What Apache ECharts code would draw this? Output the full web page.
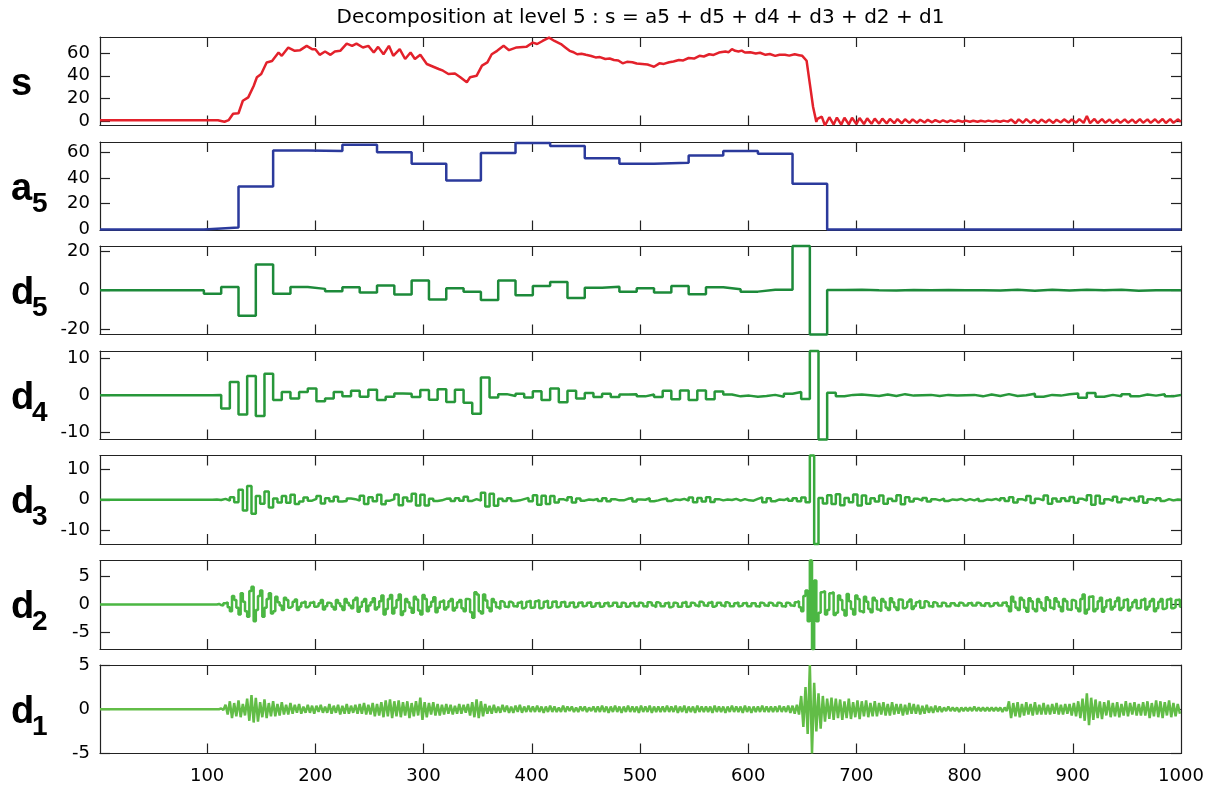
<!DOCTYPE html>
<html>
<head>
<meta charset="utf-8">
<title>Decomposition at level 5</title>
<script src="https://cdn.jsdelivr.net/npm/echarts@6.0.0/dist/echarts.min.js"></script>
<style>
html, body { margin: 0; padding: 0; background: #fff; }
#chart { width: 1216px; height: 791px; }
</style>
</head>
<body>
<div id="chart"></div>
<script>
// signal s as [sample, value]
const sPts = [
  [1, 0.8], [110, 0.8], [116, -0.5], [120, 1], [124, 6.5], [129, 7], [133, 18], [138, 21], [143, 31],
  [146, 38.7], [150, 41.6], [155, 51.8], [160, 53], [166, 60.5], [169, 57.6], [175, 64.9], [181, 62],
  [186, 62.6], [192, 66.4], [197, 63.5], [200, 63.5], [204, 58.5], [209, 61.4], [214, 58.5], [218, 61.4],
  [223, 62], [229, 68.4], [234, 66.4], [238, 68.4], [244, 64.9], [249, 66.4], [254, 60.5], [258, 65.5],
  [263, 59], [268, 66.4], [272, 57.6], [278, 63.5], [283, 54.8], [288, 60.5], [292, 54.8], [297, 58.5],
  [303, 50.4], [309, 48], [314, 46], [318, 44.5], [323, 41.6], [329, 42], [334, 38.7], [340, 34.3],
  [343, 38.7], [349, 40], [354, 49], [359, 51.8], [363, 59], [368, 62], [374, 66.4], [379, 62.6],
  [386, 65], [395, 65.5], [401, 69.3], [405, 68], [410, 70.7], [416, 73.6], [421, 70.7], [427, 68],
  [431, 65], [435, 62], [438, 61], [442, 59], [446, 59.5], [450, 58.5], [455, 57.5], [459, 56.2],
  [463, 56.5], [468, 54.8], [472, 55.2], [476, 53.9], [480, 53.5], [484, 51], [488, 52.3], [493, 52],
  [497, 50.8], [502, 50.4], [507, 50], [510, 49], [513, 48], [518, 51], [522, 50.5], [527, 52],
  [531, 52.6], [536, 53.9], [540, 53.5], [545, 55.7], [550, 55.2], [555, 57.6], [559, 57], [564, 59],
  [568, 58.4], [573, 60.5], [579, 61.4], [582, 60.8], [585, 63.5], [588, 62], [591, 61.4], [594, 62.2],
  [597, 60.5], [602, 60.8], [607, 59.6], [611, 60.3], [616, 58.5], [620, 59.2], [625, 57.6], [629, 58.6],
  [634, 58.5], [638, 57.8], [643, 59], [647, 58.2], [650, 57.6], [654, 53.3], [657, 32.9], [660, 12.5],
  [663, -0.6], [664, 2], [668, 4], [671, -3.8], [675, 3.5], [679, -3], [682, 3.2], [686, -3], [689, 3],
  [693, -2.8], [696, 3], [700, -2.6], [703, 2.8], [707, -2.5], [710, 2.5], [714, -2.3], [717, 2.3],
  [721, -2.2], [724, 2.2], [728, -2], [731, 2], [735, -1.8], [738, 1.9], [742, -1.8], [745, 1.7],
  [749, -1.5], [752, 1.6], [756, -1.4], [759, 1.3], [763, -1.2], [766, 1.2], [770, -1], [773, 1],
  [777, -0.9], [780, 0.8], [784, -0.8], [787, 0.7], [791, -0.6], [794, 0.6], [798, -0.5], [801, 0.5],
  [805, -0.5], [808, 0.4], [812, -0.5], [815, 0.4], [819, -0.4], [822, 0.5], [826, -0.4], [829, 0.4],
  [833, -0.5], [836, 0.5], [840, -0.4], [843, 1.5], [847, -1.8], [850, 1.6], [854, -1.4], [857, 1.8],
  [861, -1.5], [864, 1.2], [868, -1.6], [871, 1.5], [875, -1.2], [878, 1.4], [882, -1.5], [885, 1.3],
  [889, -1.1], [892, 1.6], [896, -1.2], [899, 1.5], [903, -1.4], [906, 1.8], [910, -1.5], [913, 4.5],
  [916, -1.8], [920, 2], [923, -1.6], [927, 1.8], [930, -1.4], [934, 1.5], [937, -1.6], [941, 1.4],
  [944, -1.5], [948, 1.6], [951, -1.3], [955, 1.5], [958, -1.6], [962, 1.8], [965, -1.4], [969, 1.6],
  [972, -1.5], [976, 1.7], [979, -1.4], [983, 1.9], [986, -1.6], [990, 1.8], [993, -1.5], [997, 1.6],
  [1000, -0.5]
];

// a5: one level per 32-sample block, first block starts at sample 1
const a5Vals = [0, 0, 0, 1.5, 33.4, 61.3, 60.8, 65.7, 59.8, 51, 38, 59.2, 67, 64.7, 55.3, 51,
  51.7, 57.4, 60.8, 58.7, 35.4, 0, 0, 0, 0, 0, 0, 0, 0, 0, 0, 0];

// d5: one level per 16 samples
const d5Vals = [
  0, 0, 0, 0, 0, 0, -1.8, 1.7, -13, 13.1,
  -1.8, 1.7, 0.7, -0.5, 1.5, -1.2, 2.4, -2.2, 4.9, -4.7,
  1.0, -0.7, -5, 5, -2.5, 2.2, 4.2, -4, 1.3, 1.8,
  -0.7, 1.0, -1.2, 2.2, -2.0, 1.5, 0.5, -0.7, 0.2, 0.2,
  22.5, -22.5, 0.1, 0.3, 0, -0.1, 0.1, 0, 0.1, 0,
  0, -0.1, 0.2, -0.2, 0.3, -0.1, 0.3, 0, 0.3, -0.2,
  0, 0, 0
];

// d4: one level per 8 samples
const d4Vals = [
  0, 0, 0, 0, 0, 0, 0, 0, 0, 0,
  0, 0, 0, 0.1, -3.6, 3.6, -5.2, 5.2, -5.6, 5.8,
  -1.3, 0.9, -0.9, 0.9, 1.8, -1.6, -0.9, 0.9, -0.3, 1.2,
  -0.4, 1.5, -1.3, -0.4, 0.5, 0.4, -0.5, 1.4, -1.2, 1.6,
  -1.8, 1.5, -2.0, -5.0, 4.8, -0.6, 0.3, -0.2, 0.4, -0.6,
  1.1, -1.3, 1.8, -1.9, 1.2, -0.9, 0.6, -0.5, 0.4, -0.5,
  0.2, 0.3, -0.3, 0.2, -0.5, 1.2, -1.1, 1.3, -1.3, 1.3,
  -1.1, 1.0, 0.2, -0.3, -0.1, -0.4, -0.2, 0.1, -0.4, 0.4,
  0.9, -1.0, 12, -12, 0.7, -0.3, 0.1, 0.2, 0, -0.2,
  0.2, -0.2, 0.3, -0.1, 0, 0.1, -0.2, 0.1, -0.1, 0,
  0.1, -0.3, 0.2, -0.2, 0.3, -0.2, 0, 0.4, -0.4, 0.1,
  -0.1, 0.3, 0.5, -0.7, 0.6, -0.4, 0.1, -0.3, 0.3, -0.3,
  0.2, -0.1, 0.3, -0.3, 0.1
];

// d3: one level per 4 samples
const d3Vals = [
  0, 0, 0, 0, 0, 0, 0, 0, 0, 0,
  0, 0, 0, 0, 0, 0, 0, 0, 0, 0,
  0, 0, 0, 0, 0, 0, 0.1, -0.1, 0.3, -0.3,
  0.8, -0.8, 3.3, -3.5, 4.5, -4.6, 1.2, -1.3, 2.7, -2.5,
  0.4, -0.9, 1.2, -1.0, 1.6, -1.4, -0.6, 0.7, -0.3, 0.3,
  1.2, -1.2, 0.5, -0.5, 1.0, -0.6, -0.4, 0.4, 0.2, -0.3,
  1.3, -1.4, 0.8, -0.5, 1.6, -1.5, -0.3, 0.2, 1.7, -1.8,
  0.7, -0.5, 2.0, -1.9, 1.6, -1.9, 0.3, -0.4, -0.2, 0.3,
  0.4, -0.4, 0.5, -0.3, 1.0, -0.4, 0.2, -0.3, 2.3, -2.2,
  2.0, -2.0, 0.3, -0.4, 0.5, -0.4, -0.2, 0.2, 0.6, -0.5,
  1.5, -1.6, 1.3, -1.4, 1.2, -0.9, 0.2, -0.3, 0.8, -0.9,
  0.4, -0.3, 0.1, -0.1, 0.3, -0.4, 0.5, -0.5, 0.2, -0.2,
  -0.2, 0.3, 0.6, -0.6, 0.1, 0, 0.5, -0.5, -0.2, 0.2,
  0.4, -0.4, 0.1, -0.1, 0.3, -0.3, 0.7, -0.8, 0.6, -0.6,
  0.8, -0.7, 0.2, -0.2, 0.1, -0.1, 0.3, -0.3, 0.2, -0.2,
  -0.3, 0.3, 0.8, -0.8, 0.5, -0.5, 0.1, -0.1, 0.4, -0.3,
  0.5, -0.5, 0.7, -0.8, 14.5, -14.5, 0.6, -1.2, 1.5, -1.4,
  1.8, -1.8, 0.6, -0.8, 1.7, -1.9, 1.4, -1.3, 0.5, -0.6,
  1.4, -1.3, 0.3, -0.4, 1.5, -1.5, 0.8, -0.6, 0.3, -0.3,
  0.6, -0.6, 0.2, -0.2, 0.4, -0.4, 0.1, -0.1, 0.3, -0.3,
  0.2, -0.2, 0.4, -0.4, 0.1, -0.1, 0.3, -0.3, 0.5, -0.4,
  0.8, -0.9, 0.2, -0.3, 1.2, -1.1, 0.3, -0.2, 1.4, -1.3,
  0.4, -0.6, 0.5, -0.4, 0.9, -1.0, 0.3, -0.3, 1.5, -1.6,
  1.3, -1.2, 0.2, -0.4, 1.0, -0.8, 0.3, -0.2, 0.6, -0.5,
  1.1, -1.0, 0.2, -0.3, 0.5, -0.4, 0.2, -0.2, 0.1, 0
];

// d2: one level per 2 samples
const d2Vals = [
  0, 0, 0, 0, 0, 0, 0, 0, 0, 0,
  0, 0, 0, 0, 0, 0, 0, 0, 0, 0,
  0, 0, 0, 0, 0, 0, 0, 0, 0, 0,
  0, 0, 0, 0, 0, 0, 0, 0, 0, 0,
  0, 0, 0, 0, 0, 0, 0, 0, 0, 0,
  0, 0, 0, 0, 0.1, -0.1, -0.2, 0.2, 0.4, -0.5,
  -1.2, 1.5, 0.8, -0.6, -1.8, 2, 0.5, -1.2, -2.2, 2.4,
  3.2, -3.0, -1.0, 1.5, 2.5, -2.2, -0.6, 1.0, 2.0, -1.6,
  -1.2, 1.4, 0.4, -0.2, -1.0, 1.2, 0.8, -0.6, -0.3, 0.5,
  0.9, -1.0, -0.4, 0.3, 0.6, -0.5, -0.2, 0.3, 0.5, -0.4,
  -0.3, 0.2, 0.8, -0.9, -0.3, 0.3, 0.2, -0.4, -0.9, 0.8,
  0.2, -0.3, -1.0, 1.0, 0.3, -0.2, -0.7, 0.8, 1.2, -1.3,
  -0.4, 0.5, 1.0, -1.2, -0.2, 0.4, 1.1, -0.9, -0.5, 0.6,
  1.6, -1.8, -0.8, 1.0, 1.7, -1.6, -0.6, 0.8, 1.8, -1.9,
  -1.2, 1.0, 0.4, -0.6, -1.5, 1.4, 0.9, -1.1, -1.8, 1.7,
  1.0, -1.2, -0.4, 0.5, 1.3, -1.4, -0.6, 0.5, 0.8, -0.9,
  -0.5, 0.6, 1.0, -1.1, -0.6, 0.4, 0.8, -0.7, -1.2, 1.0,
  0.9, -1.4, -2.4, 2.2, 1.8, -1.2, -1.6, 1.8, 0.7, -0.6,
  -1.2, 1.0, 0.4, -0.5, -0.8, 0.6, 0.3, -0.4, -0.5, 0.5,
  0.2, -0.3, -0.4, 0.3, 0.6, -0.7, -0.4, 0.5, 0.7, -0.6,
  -0.5, 0.6, 0.8, -0.7, -0.5, 0.5, 0.7, -0.6, -0.4, 0.5,
  0.6, -0.5, -0.3, 0.4, 0.5, -0.4, -0.3, 0.3, 0.4, -0.5,
  -0.3, 0.3, 0.4, -0.3, -0.2, 0.3, 0.4, -0.4, -0.3, 0.2,
  0.3, -0.4, -0.3, 0.2, 0.4, -0.3, -0.2, 0.3, 0.3, -0.4,
  -0.4, 0.3, 0.2, -0.4, -0.3, 0.2, 0.4, -0.3, -0.3, 0.3,
  0.2, -0.3, -0.4, 0.4, 0.3, -0.2, -0.5, 0.4, 0.2, -0.3,
  -0.3, 0.2, 0.4, -0.5, -0.3, 0.3, 0.2, -0.4, -0.4, 0.3,
  0.5, -0.4, -0.3, 0.3, 0.2, -0.2, -0.4, 0.5, 0.3, -0.2,
  -0.3, 0.3, 0.5, -0.4, -0.2, 0.3, 0.3, -0.2, -0.4, 0.4,
  0.2, -0.3, -0.3, 0.2, 0.4, -0.3, -0.2, 0.2, 0.3, -0.3,
  -0.3, 0.2, 0.2, -0.3, -0.4, 0.3, 0.2, -0.2, -0.3, 0.3,
  0.2, -0.2, -0.3, 0.3, 0.2, -0.3, -0.4, 0.3, 0.2, -0.2,
  -0.3, 0.4, 0.6, -0.5, -1.2, 1.5, 2.5, -3.0, 7.9, -8,
  4.3, -3.0, -1.5, 2.2, 2.4, -1.8, -1.0, 2.0, 2.2, -1.9,
  -1.5, 1.6, 0.8, -1.0, -2.0, 1.9, 0.6, -0.8, -1.8, 1.6,
  1.0, -1.2, -1.5, 1.4, 0.5, -0.8, -1.4, 1.2, 0.7, -0.9,
  -1.2, 1.0, 0.5, -0.6, -1.0, 1.1, 0.4, -0.5, -1.0, 0.9,
  0.8, -0.7, -0.4, 0.5, 0.9, -0.8, -0.3, 0.4, 0.7, -0.6,
  -0.5, 0.6, 0.3, -0.3, -0.5, 0.4, 0.2, -0.3, -0.3, 0.3,
  0.2, -0.3, -0.3, 0.2, 0.2, -0.2, -0.3, 0.3, 0.2, -0.2,
  -0.2, 0.2, 0.3, -0.2, -0.2, 0.3, 0.2, -0.2, -0.3, 0.2,
  0.2, -0.3, -0.2, 0.2, 0.3, -0.2, -0.2, 0.3, 0.4, -0.3,
  -1.2, 1.4, 0.5, -0.6, -1.0, 1.2, 0.8, -0.6, -1.3, 1.1,
  0.6, -0.8, -1.2, 1.0, 0.4, -0.7, -1.1, 1.3, 0.8, -0.6,
  -0.9, 1.1, 0.5, -0.4, -1.2, 1.0, 0.6, -0.9, -1.0, 0.8,
  0.6, -0.7, -1.2, 1.0, 1.8, -1.6, -0.9, 1.4, 1.5, -1.2,
  -0.8, 0.6, 1.2, -1.3, -0.5, 0.7, 1.0, -0.9, -0.4, 0.6,
  1.2, -1.0, -0.6, 0.8, 1.0, -1.1, -0.5, 0.4, 0.8, -0.7,
  -0.6, 0.8, 1.1, -0.9, -0.4, 0.6, 1.0, -1.2, -0.7, 0.5,
  1.0, -0.8, -0.6, 0.9, 1.1, -0.7, -0.5, 0.8, 0.9, -0.4
];

// d1: one value every 2 samples
const d1Vals = [
  0, 0, 0, 0, 0, 0, 0, 0, 0, 0,
  0, 0, 0, 0, 0, 0, 0, 0, 0, 0,
  0, 0, 0, 0, 0, 0, 0, 0, 0, 0,
  0, 0, 0, 0, 0, 0, 0, 0, 0, 0,
  0, 0, 0, 0, 0, 0, 0, 0, 0, 0,
  0, 0, 0, 0, 0, 0, 0.1, -0.1, 0.5, -0.6,
  0.9, -1.0, 0.7, -0.8, 1.0, -0.9, 0.6, -0.7, 1.2, -1.3,
  1.6, -1.5, 1.3, -1.4, 0.8, -0.9, 1.1, -1.0, 0.7, -0.8,
  0.9, -0.8, 0.6, -0.7, 0.8, -0.6, 0.5, -0.6, 0.7, -0.5,
  0.5, -0.4, 0.6, -0.5, 0.3, -0.4, 0.5, -0.4, 0.4, -0.5,
  0.4, -0.3, 0.5, -0.4, 0.3, -0.4, 0.6, -0.5, 0.4, -0.4,
  0.5, -0.6, 0.4, -0.5, 0.6, -0.5, 0.4, -0.4, 0.5, -0.5,
  0.6, -0.5, 0.7, -0.6, 0.5, -0.6, 0.7, -0.8, 0.6, -0.7,
  0.8, -0.9, 1.0, -0.8, 1.1, -1.0, 0.9, -0.8, 1.0, -0.9,
  0.8, -0.7, 0.9, -1.0, 0.7, -0.8, 0.9, -0.7, 1.3, -1.2,
  0.8, -0.9, 0.7, -0.6, 0.8, -0.7, 0.6, -0.7, 0.5, -0.6,
  0.6, -0.5, 0.5, -0.6, 0.4, -0.5, 0.6, -0.5, 0.5, -0.4,
  0.6, -0.7, 0.8, -0.9, 1.1, -1.0, 0.9, -0.8, 0.6, -0.5,
  0.4, -0.5, 0.5, -0.4, 0.3, -0.4, 0.5, -0.3, 0.4, -0.4,
  0.3, -0.4, 0.4, -0.3, 0.5, -0.4, 0.3, -0.3, 0.4, -0.3,
  0.3, -0.3, 0.4, -0.3, 0.3, -0.4, 0.3, -0.3, 0.4, -0.3,
  0.3, -0.3, 0.2, -0.3, 0.4, -0.3, 0.3, -0.2, 0.3, -0.3,
  0.2, -0.3, 0.3, -0.2, 0.3, -0.3, 0.2, -0.2, 0.3, -0.3,
  0.3, -0.3, 0.4, -0.3, 0.3, -0.4, 0.3, -0.3, 0.4, -0.3,
  0.3, -0.4, 0.3, -0.3, 0.4, -0.3, 0.3, -0.3, 0.3, -0.4,
  0.4, -0.3, 0.3, -0.3, 0.4, -0.4, 0.3, -0.3, 0.3, -0.3,
  0.3, -0.3, 0.4, -0.3, 0.3, -0.3, 0.4, -0.4, 0.3, -0.3,
  0.4, -0.4, 0.3, -0.3, 0.3, -0.4, 0.4, -0.3, 0.3, -0.3,
  0.3, -0.3, 0.3, -0.4, 0.4, -0.3, 0.3, -0.3, 0.3, -0.4,
  0.3, -0.3, 0.4, -0.3, 0.3, -0.3, 0.3, -0.4, 0.4, -0.3,
  0.3, -0.4, 0.3, -0.3, 0.3, -0.3, 0.4, -0.3, 0.3, -0.3,
  0.3, -0.3, 0.3, -0.3, 0.4, -0.3, 0.3, -0.3, 0.4, -0.4,
  0.4, -0.5, 0.5, -0.6, 1.5, -2.0, 2.5, -2.8, 5.0, -5.0,
  3.0, -2.5, 1.8, -2.2, 1.5, -1.4, 1.2, -1.1, 1.3, -1.2,
  1.2, -1.0, 1.1, -1.2, 0.9, -1.0, 1.2, -1.1, 0.8, -0.9,
  1.0, -1.1, 0.9, -0.8, 1.0, -0.9, 0.7, -0.8, 0.9, -0.8,
  0.7, -0.6, 0.8, -0.7, 0.6, -0.7, 0.8, -0.6, 0.6, -0.5,
  0.6, -0.7, 0.5, -0.6, 0.7, -0.5, 0.6, -0.5, 0.5, -0.6,
  0.4, -0.5, 0.5, -0.4, 0.3, -0.4, 0.4, -0.3, 0.3, -0.3,
  0.2, -0.2, 0.3, -0.2, 0.2, -0.2, 0.2, -0.3, 0.2, -0.2,
  0.2, -0.2, 0.2, -0.2, 0.3, -0.2, 0.2, -0.2, 0.2, -0.2,
  0.2, -0.2, 0.2, -0.2, 0.2, -0.2, 0.2, -0.3, 0.2, -0.2,
  0.9, -1.0, 0.7, -0.8, 0.8, -0.9, 0.6, -0.7, 0.8, -0.6,
  0.6, -0.7, 0.8, -0.6, 0.5, -0.6, 0.7, -0.6, 0.5, -0.6,
  0.6, -0.5, 0.7, -0.6, 0.5, -0.6, 0.6, -0.5, 0.6, -0.7,
  0.7, -0.8, 0.9, -1.0, 1.2, -1.3, 1.8, -1.8, 1.3, -1.2,
  1.1, -1.0, 0.9, -1.1, 0.8, -0.7, 1.0, -0.9, 0.7, -0.8,
  0.8, -0.9, 0.6, -0.7, 0.9, -0.8, 0.7, -0.6, 0.8, -0.7,
  0.6, -0.7, 0.8, -0.7, 0.9, -1.0, 0.7, -0.8, 1.0, -0.9,
  0.9, -1.0, 0.8, -0.7, 1.0, -0.9, 0.7, -0.8, 0.6, -0.5
];

const xTicks = [100, 200, 300, 400, 500, 600, 700, 800, 900];
const xLabels = [100, 200, 300, 400, 500, 600, 700, 800, 900, 1000];
const yLimits = [[-3.8, 74.2], [-0.8, 67.8], [-22.5, 22.5], [-12, 12], [-14.5, 14.5], [-8, 7.9], [-5, 5]];
const yTicks = [[0, 20, 40, 60], [0, 20, 40, 60], [-20, 0, 20], [-10, 0, 10], [-10, 0, 10], [-5, 0, 5], [-5, 0, 5]];
const names = ['s', 'a', 'd', 'd', 'd', 'd', 'd'];
const subs = ['', '5', '5', '4', '3', '2', '1'];
const colors = ['#e3212b', '#2b3a9c', '#1d8a3a', '#27973a', '#38a93c', '#4bb743', '#62bd47'];

// start of sample blocks -> [x, y]; the last level runs to sample 1000
function blocks(vals, len) {
  const pts = vals.map((v, i) => [1 + i * len, v]);
  pts.push([1000, vals[vals.length - 1]]);
  return pts;
}
function every(vals, gap) {
  return vals.map((v, i) => [1 + i * gap, v]);
}

const seriesData = [
  sPts,
  blocks(a5Vals, 32),
  blocks(d5Vals, 16),
  blocks(d4Vals, 8),
  blocks(d3Vals, 4),
  blocks(d2Vals, 2),
  every(d1Vals, 2)
];

const FONT = 'Liberation Sans, Arial, Helvetica, sans-serif';
const NUM_FONT = 'DejaVu Sans, Liberation Sans, sans-serif';
const left = 100, plotW = 1081, panelH = 88.5;
const panelTop = [37, 142, 246, 351, 455.5, 560.5, 665];

const grids = [], xAxes = [], yAxes = [], series = [], graphics = [];
const axisLine = { show: true, onZero: false, lineStyle: { color: '#222', width: 1.2 } };

for (let i = 0; i < 7; i++) {
  grids.push({ left: left, top: panelTop[i], width: plotW, height: panelH, outerBoundsMode: 'none' });
  ['bottom', 'top'].forEach(pos => {
    xAxes.push({
      type: 'value', gridIndex: i, position: pos, min: 1, max: 1000,
      axisLine: axisLine,
      axisTick: { show: true, inside: true, length: 10, customValues: xTicks, lineStyle: { color: '#222', width: 1.2 } },
      axisLabel: {
        show: pos === 'bottom' && i === 6, customValues: xLabels, margin: 14,
        color: '#000', fontSize: 18, fontFamily: NUM_FONT,
        formatter: v => String(v)
      },
      splitLine: { show: false }
    });
  });
  ['left', 'right'].forEach(pos => {
    yAxes.push({
      type: 'value', gridIndex: i, position: pos, min: yLimits[i][0], max: yLimits[i][1],
      axisLine: axisLine,
      axisTick: { show: true, inside: true, length: 10, customValues: yTicks[i], lineStyle: { color: '#222', width: 1.2 } },
      axisLabel: {
        show: pos === 'left', customValues: yTicks[i], margin: 10,
        color: '#000', fontSize: 18, fontFamily: NUM_FONT,
        formatter: v => String(v)
      },
      splitLine: { show: false }
    });
  });
  series.push({
    type: 'line', xAxisIndex: 2 * i, yAxisIndex: 2 * i,
    data: seriesData[i], step: i === 0 || i === 6 ? false : 'end',
    showSymbol: false, clip: false, silent: true,
    lineStyle: { color: colors[i], width: 2.5 }
  });
  // panel name with subscript
  const mid = panelTop[i] + panelH / 2;
  graphics.push({
    type: 'text', left: 11, top: mid - 16,
    style: { text: names[i], font: 'bold 38px ' + FONT, fill: '#000' }
  });
  if (subs[i]) {
    graphics.push({
      type: 'text', left: 32, top: mid + 4,
      style: { text: subs[i], font: 'bold 28px ' + FONT, fill: '#000' }
    });
  }
}

// title centred over the plot area
graphics.push({
  type: 'text', x: left + plotW / 2, y: 18,
  style: {
    text: 'Decomposition at level 5 : s = a5 + d5 + d4 + d3 + d2 + d1',
    font: '20px ' + NUM_FONT, fill: '#000', align: 'center', verticalAlign: 'middle'
  }
});

const chart = echarts.init(document.getElementById('chart'), null, { renderer: 'canvas' });
chart.setOption({
  animation: false,
  backgroundColor: '#fff',
  grid: grids,
  xAxis: xAxes,
  yAxis: yAxes,
  series: series,
  graphic: graphics
});
</script>
</body>
</html>
